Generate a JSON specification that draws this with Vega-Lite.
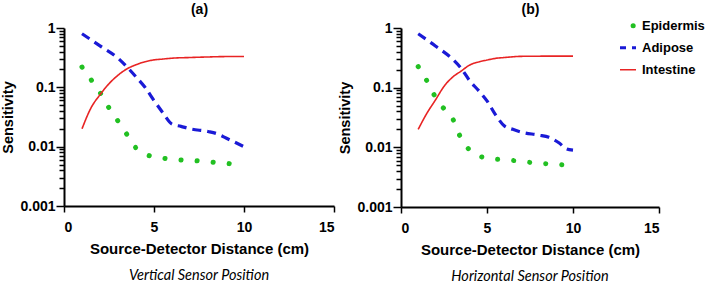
{
  "$schema": "https://vega.github.io/schema/vega-lite/v6.json",
  "padding": {"left": 0, "top": 2, "right": 0, "bottom": 0},
  "bounds": "flush",
  "spacing": 67,
  "config": {
    "view": {"stroke": null},
    "font": "Liberation Sans",
    "axis": {
      "grid": false,
      "domainColor": "black",
      "domainWidth": 2,
      "tickColor": "black",
      "tickWidth": 1.5,
      "labelFont": "Liberation Sans",
      "labelFontWeight": "bold",
      "labelFontSize": 14,
      "labelColor": "black",
      "titleFont": "Liberation Sans",
      "titleFontWeight": "bold",
      "titleColor": "black"
    },
    "title": {
      "font": "Lato",
      "fontStyle": "italic",
      "fontWeight": "normal",
      "fontSize": 14.5,
      "color": "black",
      "orient": "bottom",
      "anchor": "middle",
      "offset": 13
    },
    "legend": {
      "orient": "none",
      "legendX": 556,
      "legendY": -13,
      "padding": 0,
      "symbolType": "stroke",
      "symbolSize": 361,
      "labelFont": "Liberation Sans",
      "labelFontSize": 13,
      "labelFontWeight": "bold",
      "labelColor": "black",
      "labelOffset": 9,
      "clipHeight": 21.5,
      "rowPadding": 0
    }
  },
  "datasets": {
    "curves": [
      {"panel": "a", "tissue": "Epidermis", "x": 1, "y": 0.22},
      {"panel": "a", "tissue": "Epidermis", "x": 1.5, "y": 0.135},
      {"panel": "a", "tissue": "Epidermis", "x": 2, "y": 0.082},
      {"panel": "a", "tissue": "Epidermis", "x": 2.5, "y": 0.045},
      {"panel": "a", "tissue": "Epidermis", "x": 3, "y": 0.027},
      {"panel": "a", "tissue": "Epidermis", "x": 3.5, "y": 0.016},
      {"panel": "a", "tissue": "Epidermis", "x": 4, "y": 0.0095},
      {"panel": "a", "tissue": "Epidermis", "x": 4.6, "y": 0.0073},
      {"panel": "a", "tissue": "Epidermis", "x": 5.5, "y": 0.0064},
      {"panel": "a", "tissue": "Epidermis", "x": 6.4, "y": 0.006},
      {"panel": "a", "tissue": "Epidermis", "x": 7.3, "y": 0.0058},
      {"panel": "a", "tissue": "Epidermis", "x": 8.2, "y": 0.0055},
      {"panel": "a", "tissue": "Epidermis", "x": 9.1, "y": 0.0052},
      {"panel": "a", "tissue": "Epidermis", "x": 10, "y": 0.005},
      {"panel": "a", "tissue": "Adipose", "x": 1, "y": 0.8},
      {"panel": "a", "tissue": "Adipose", "x": 2, "y": 0.5},
      {"panel": "a", "tissue": "Adipose", "x": 3, "y": 0.31},
      {"panel": "a", "tissue": "Adipose", "x": 3.5, "y": 0.22},
      {"panel": "a", "tissue": "Adipose", "x": 4, "y": 0.15},
      {"panel": "a", "tissue": "Adipose", "x": 4.5, "y": 0.1},
      {"panel": "a", "tissue": "Adipose", "x": 5, "y": 0.06},
      {"panel": "a", "tissue": "Adipose", "x": 5.5, "y": 0.037},
      {"panel": "a", "tissue": "Adipose", "x": 6, "y": 0.024},
      {"panel": "a", "tissue": "Adipose", "x": 6.5, "y": 0.022},
      {"panel": "a", "tissue": "Adipose", "x": 7, "y": 0.02},
      {"panel": "a", "tissue": "Adipose", "x": 8, "y": 0.018},
      {"panel": "a", "tissue": "Adipose", "x": 8.5, "y": 0.0165},
      {"panel": "a", "tissue": "Adipose", "x": 9, "y": 0.014},
      {"panel": "a", "tissue": "Adipose", "x": 10, "y": 0.01},
      {"panel": "a", "tissue": "Intestine", "x": 1, "y": 0.02},
      {"panel": "a", "tissue": "Intestine", "x": 1.5, "y": 0.045},
      {"panel": "a", "tissue": "Intestine", "x": 2, "y": 0.075},
      {"panel": "a", "tissue": "Intestine", "x": 2.5, "y": 0.115},
      {"panel": "a", "tissue": "Intestine", "x": 3, "y": 0.16},
      {"panel": "a", "tissue": "Intestine", "x": 3.5, "y": 0.205},
      {"panel": "a", "tissue": "Intestine", "x": 4, "y": 0.24},
      {"panel": "a", "tissue": "Intestine", "x": 4.5, "y": 0.27},
      {"panel": "a", "tissue": "Intestine", "x": 5, "y": 0.29},
      {"panel": "a", "tissue": "Intestine", "x": 5.5, "y": 0.3},
      {"panel": "a", "tissue": "Intestine", "x": 6, "y": 0.31},
      {"panel": "a", "tissue": "Intestine", "x": 7, "y": 0.318},
      {"panel": "a", "tissue": "Intestine", "x": 8, "y": 0.325},
      {"panel": "a", "tissue": "Intestine", "x": 9, "y": 0.33},
      {"panel": "a", "tissue": "Intestine", "x": 10, "y": 0.33},
      {"panel": "b", "tissue": "Epidermis", "x": 1, "y": 0.225},
      {"panel": "b", "tissue": "Epidermis", "x": 1.45, "y": 0.139},
      {"panel": "b", "tissue": "Epidermis", "x": 1.9, "y": 0.078},
      {"panel": "b", "tissue": "Epidermis", "x": 2.4, "y": 0.048},
      {"panel": "b", "tissue": "Epidermis", "x": 3, "y": 0.0305},
      {"panel": "b", "tissue": "Epidermis", "x": 3.35, "y": 0.0172},
      {"panel": "b", "tissue": "Epidermis", "x": 3.8, "y": 0.0104},
      {"panel": "b", "tissue": "Epidermis", "x": 4.5, "y": 0.0072},
      {"panel": "b", "tissue": "Epidermis", "x": 5.4, "y": 0.0064},
      {"panel": "b", "tissue": "Epidermis", "x": 6.3, "y": 0.0061},
      {"panel": "b", "tissue": "Epidermis", "x": 7.2, "y": 0.0057},
      {"panel": "b", "tissue": "Epidermis", "x": 8.1, "y": 0.0054},
      {"panel": "b", "tissue": "Epidermis", "x": 9, "y": 0.0052},
      {"panel": "b", "tissue": "Epidermis", "x": 9.85, "y": 0.0049},
      {"panel": "b", "tissue": "Adipose", "x": 1, "y": 0.8},
      {"panel": "b", "tissue": "Adipose", "x": 2, "y": 0.5},
      {"panel": "b", "tissue": "Adipose", "x": 3, "y": 0.3},
      {"panel": "b", "tissue": "Adipose", "x": 3.5, "y": 0.21},
      {"panel": "b", "tissue": "Adipose", "x": 4, "y": 0.13},
      {"panel": "b", "tissue": "Adipose", "x": 4.5, "y": 0.09},
      {"panel": "b", "tissue": "Adipose", "x": 5, "y": 0.06},
      {"panel": "b", "tissue": "Adipose", "x": 5.5, "y": 0.035},
      {"panel": "b", "tissue": "Adipose", "x": 6, "y": 0.023},
      {"panel": "b", "tissue": "Adipose", "x": 6.5, "y": 0.02},
      {"panel": "b", "tissue": "Adipose", "x": 7, "y": 0.018},
      {"panel": "b", "tissue": "Adipose", "x": 8, "y": 0.016},
      {"panel": "b", "tissue": "Adipose", "x": 8.6, "y": 0.0147},
      {"panel": "b", "tissue": "Adipose", "x": 9.2, "y": 0.0118},
      {"panel": "b", "tissue": "Adipose", "x": 9.6, "y": 0.0095},
      {"panel": "b", "tissue": "Adipose", "x": 10, "y": 0.009},
      {"panel": "b", "tissue": "Intestine", "x": 1, "y": 0.02},
      {"panel": "b", "tissue": "Intestine", "x": 1.5, "y": 0.037},
      {"panel": "b", "tissue": "Intestine", "x": 2, "y": 0.062},
      {"panel": "b", "tissue": "Intestine", "x": 2.5, "y": 0.105},
      {"panel": "b", "tissue": "Intestine", "x": 3, "y": 0.15},
      {"panel": "b", "tissue": "Intestine", "x": 3.5, "y": 0.19},
      {"panel": "b", "tissue": "Intestine", "x": 4, "y": 0.24},
      {"panel": "b", "tissue": "Intestine", "x": 4.5, "y": 0.27},
      {"panel": "b", "tissue": "Intestine", "x": 5, "y": 0.29},
      {"panel": "b", "tissue": "Intestine", "x": 5.5, "y": 0.31},
      {"panel": "b", "tissue": "Intestine", "x": 6, "y": 0.32},
      {"panel": "b", "tissue": "Intestine", "x": 7, "y": 0.335},
      {"panel": "b", "tissue": "Intestine", "x": 8, "y": 0.337},
      {"panel": "b", "tissue": "Intestine", "x": 9, "y": 0.338},
      {"panel": "b", "tissue": "Intestine", "x": 10, "y": 0.338}
    ]
  },
  "data": {"name": "curves"},
  "hconcat": [
    {
      "width": 270,
      "height": 178,
      "title": {"text": "Vertical Sensor Position"},
      "resolve": {"axis": {"x": "independent"}},
      "layer": [
        {
          "transform": [{"filter": "datum.panel == 'a' && datum.tissue == 'Epidermis'"}],
          "mark": {"type": "line", "interpolate": "monotone", "strokeCap": "round", "strokeWidth": 5},
          "encoding": {
            "x": {"field": "x", "type": "quantitative", "scale": {"domain": [0, 15], "nice": false},
                  "axis": {"orient": "bottom", "values": [0, 5, 10, 15], "tickSize": 6, "labelPadding": 8, "title": "Source-Detector Distance (cm)", "titleFontSize": 15, "titlePadding": 7}},
            "y": {"field": "y", "type": "quantitative", "scale": {"type": "log", "domain": [0.001, 1], "nice": false},
                  "axis": {"values": [0.001, 0.002, 0.003, 0.004, 0.005, 0.006, 0.007, 0.008, 0.009, 0.01, 0.02, 0.03, 0.04, 0.05, 0.06, 0.07, 0.08, 0.09, 0.1, 0.2, 0.3, 0.4, 0.5, 0.6, 0.7, 0.8, 0.9, 1],
                           "labelExpr": "datum.value == 1 ? '1' : datum.value == 0.1 ? '0.1' : datum.value == 0.01 ? '0.01' : datum.value == 0.001 ? '0.001' : ''",
                           "tickSize": {"condition": {"test": "datum.value == 1 || datum.value == 0.1 || datum.value == 0.01 || datum.value == 0.001", "value": 8}, "value": 5},
                           "labelPadding": 1, "title": "Sensitivity", "titleFontSize": 14.5, "titlePadding": 4}},
            "color": {"field": "tissue", "type": "nominal", "title": null, "scale": {"domain": ["Epidermis", "Adipose", "Intestine"], "range": ["#22c022", "#1a1ad6", "#e82424"]},
                      "legend": {"encoding": {"symbols": {
                        "strokeCap": {"value": {"expr": "datum.value === 'Epidermis' ? 'round' : 'butt'"}},
                        "strokeWidth": {"value": {"expr": "datum.value === 'Epidermis' ? 5 : datum.value === 'Adipose' ? 3.2 : 1.6"}}
                      }}}},
            "strokeDash": {"field": "tissue", "type": "nominal", "title": null, "scale": {"domain": ["Epidermis", "Adipose", "Intestine"], "range": [[0.1, 16], [9, 6], [1, 0]]}}
          }
        },
        {
          "transform": [{"filter": "datum.panel == 'a' && datum.tissue == 'Adipose'"}],
          "mark": {"type": "line", "interpolate": "monotone", "strokeWidth": 3.2},
          "encoding": {
            "x": {"field": "x", "type": "quantitative",
                  "axis": {"orient": "top", "domain": false, "ticks": false, "labels": false, "title": "(a)", "titleFontSize": 14, "titlePadding": 12}},
            "y": {"field": "y", "type": "quantitative"},
            "color": {"field": "tissue", "type": "nominal", "title": null},
            "strokeDash": {"field": "tissue", "type": "nominal", "title": null}
          }
        },
        {
          "transform": [{"filter": "datum.panel == 'a' && datum.tissue == 'Intestine'"}],
          "mark": {"type": "line", "interpolate": "monotone", "strokeWidth": 1.6},
          "encoding": {
            "x": {"field": "x", "type": "quantitative", "axis": null},
            "y": {"field": "y", "type": "quantitative"},
            "color": {"field": "tissue", "type": "nominal", "title": null},
            "strokeDash": {"field": "tissue", "type": "nominal", "title": null}
          }
        }
      ]
    },
    {
      "width": 258,
      "height": 179,
      "title": {"text": "Horizontal Sensor Position"},
      "resolve": {"axis": {"x": "independent"}},
      "layer": [
        {
          "transform": [{"filter": "datum.panel == 'b' && datum.tissue == 'Epidermis'"}],
          "mark": {"type": "line", "interpolate": "monotone", "strokeCap": "round", "strokeWidth": 5},
          "encoding": {
            "x": {"field": "x", "type": "quantitative", "scale": {"domain": [0, 15], "nice": false},
                  "axis": {"orient": "bottom", "values": [0, 5, 10, 15], "tickSize": 6, "labelPadding": 8, "title": "Source-Detector Distance (cm)", "titleFontSize": 15, "titlePadding": 7}},
            "y": {"field": "y", "type": "quantitative", "scale": {"type": "log", "domain": [0.001, 1], "nice": false},
                  "axis": {"values": [0.001, 0.002, 0.003, 0.004, 0.005, 0.006, 0.007, 0.008, 0.009, 0.01, 0.02, 0.03, 0.04, 0.05, 0.06, 0.07, 0.08, 0.09, 0.1, 0.2, 0.3, 0.4, 0.5, 0.6, 0.7, 0.8, 0.9, 1],
                           "labelExpr": "datum.value == 1 ? '1' : datum.value == 0.1 ? '0.1' : datum.value == 0.01 ? '0.01' : datum.value == 0.001 ? '0.001' : ''",
                           "tickSize": {"condition": {"test": "datum.value == 1 || datum.value == 0.1 || datum.value == 0.01 || datum.value == 0.001", "value": 8}, "value": 5},
                           "labelPadding": 1, "title": "Sensitivity", "titleFontSize": 14.5, "titlePadding": 4}},
            "color": {"field": "tissue", "type": "nominal", "title": null},
            "strokeDash": {"field": "tissue", "type": "nominal", "title": null}
          }
        },
        {
          "transform": [{"filter": "datum.panel == 'b' && datum.tissue == 'Adipose'"}],
          "mark": {"type": "line", "interpolate": "monotone", "strokeWidth": 3.2},
          "encoding": {
            "x": {"field": "x", "type": "quantitative",
                  "axis": {"orient": "top", "domain": false, "ticks": false, "labels": false, "title": "(b)", "titleFontSize": 14, "titlePadding": 12}},
            "y": {"field": "y", "type": "quantitative"},
            "color": {"field": "tissue", "type": "nominal", "title": null},
            "strokeDash": {"field": "tissue", "type": "nominal", "title": null}
          }
        },
        {
          "transform": [{"filter": "datum.panel == 'b' && datum.tissue == 'Intestine'"}],
          "mark": {"type": "line", "interpolate": "monotone", "strokeWidth": 1.6},
          "encoding": {
            "x": {"field": "x", "type": "quantitative", "axis": null},
            "y": {"field": "y", "type": "quantitative"},
            "color": {"field": "tissue", "type": "nominal", "title": null},
            "strokeDash": {"field": "tissue", "type": "nominal", "title": null}
          }
        }
      ]
    }
  ]
}
